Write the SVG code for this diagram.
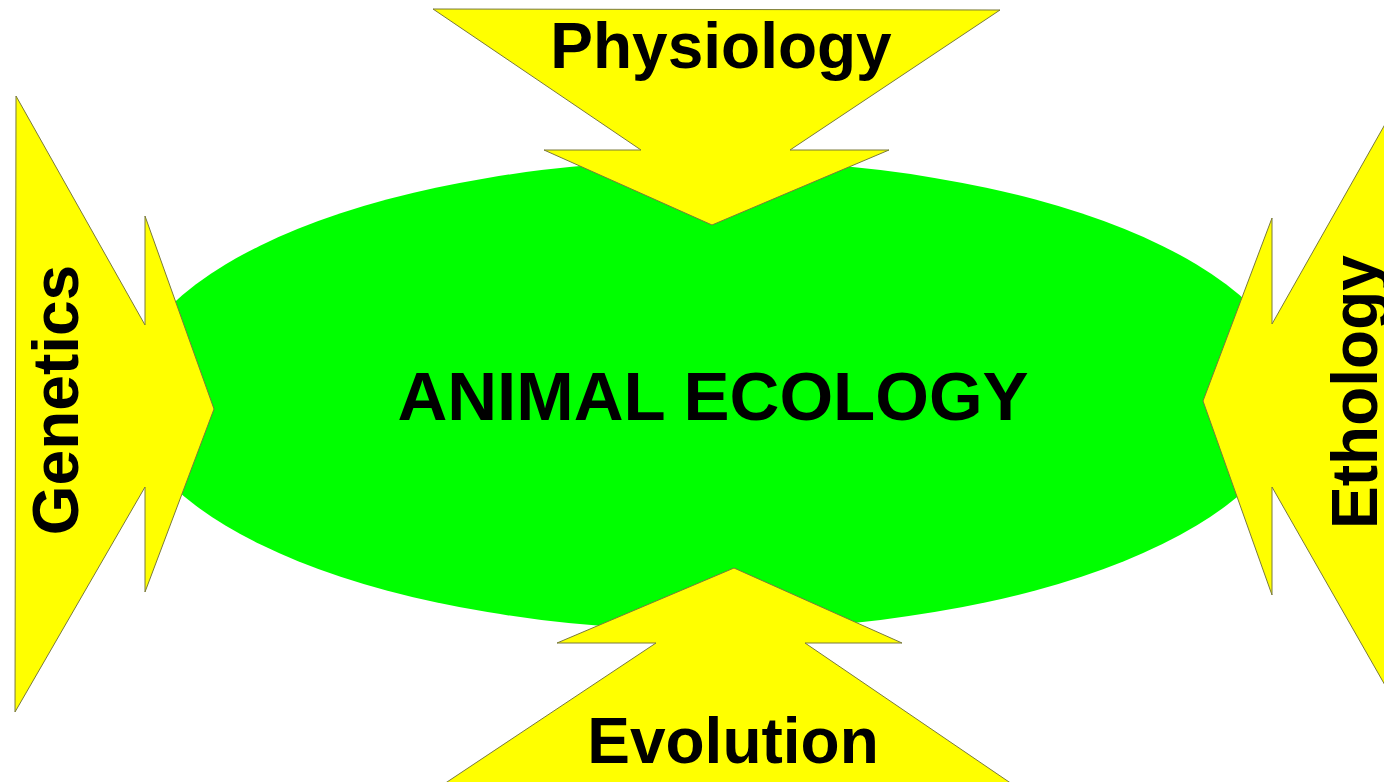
<svg xmlns="http://www.w3.org/2000/svg" width="1384" height="782" viewBox="0 0 1384 782">
  <style>
    .arrow { fill: #ffff00; stroke: #7a7a3a; stroke-width: 1; stroke-linejoin: miter; }
    .lbl { font-family: "Liberation Sans", Arial, sans-serif; font-weight: bold; fill: #000000; text-anchor: middle; }
  </style>
  <rect width="1384" height="782" fill="#ffffff"/>
  <g id="ecology">
    <ellipse cx="711" cy="395" rx="584" ry="235" fill="#00ff00"/>
    <text class="lbl" x="713" y="420" font-size="69">ANIMAL ECOLOGY</text>
  </g>
  <g id="connectors">
    <g id="physiology">
      <polygon class="arrow" points="433,9 1000,10 790,150 889,150 712,225 544,150 641,150"/>
      <text class="lbl" x="721" y="68" font-size="64">Physiology</text>
    </g>
    <g id="evolution">
      <polygon class="arrow" points="734,568 902,643 805,643 1012,784 444,784 656,643 557,643"/>
      <text class="lbl" x="733" y="763" font-size="64">Evolution</text>
    </g>
    <g id="genetics">
      <polygon class="arrow" points="16,96 145,325 145,216 214,409 145,592 145,487 15,712"/>
      <text class="lbl" transform="translate(78,400) rotate(-90)" font-size="64">Genetics</text>
    </g>
    <g id="ethology">
      <polygon class="arrow" points="1401,96 1272,324 1272,218 1203,401 1272,595 1272,487 1402,715"/>
      <text class="lbl" transform="translate(1377,392) rotate(-90)" font-size="64">Ethology</text>
    </g>
  </g>
</svg>
